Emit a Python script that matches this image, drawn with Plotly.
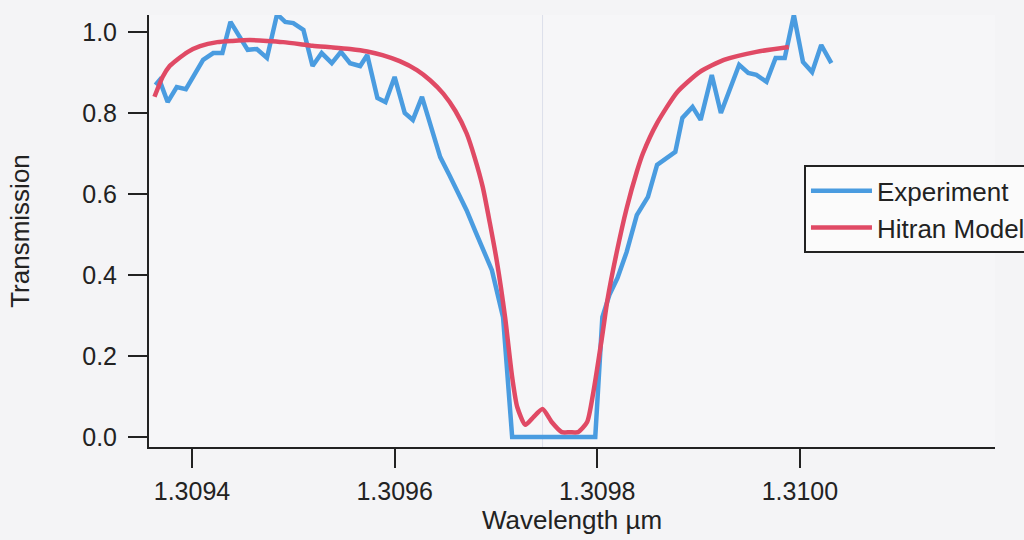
import plotly.graph_objects as go

# Experiment data (wavelength in um, transmission)
exp_wl = [1.309364, 1.309368, 1.309376, 1.309385, 1.309394, 1.309403, 1.309411, 1.309421,
          1.309430, 1.309438, 1.309447, 1.309455, 1.309464, 1.309474, 1.309484, 1.309492,
          1.309500, 1.309510, 1.309519, 1.309528, 1.309538, 1.309547, 1.309556, 1.309566,
          1.309573, 1.309583, 1.309591, 1.309600, 1.309610, 1.309618, 1.309627, 1.309636,
          1.309645, 1.309654, 1.309662, 1.309671, 1.309680, 1.309688, 1.309696, 1.309707,
          1.309716, 1.309725, 1.309734, 1.309742, 1.309751, 1.309760, 1.309769, 1.309778,
          1.309788, 1.309798, 1.309805, 1.309812, 1.309820, 1.309829, 1.309839, 1.309850,
          1.309859, 1.309868, 1.309877, 1.309884, 1.309894, 1.309902, 1.309913, 1.309922,
          1.309931, 1.309940, 1.309949, 1.309957, 1.309967, 1.309976, 1.309985, 1.309994,
          1.310003, 1.310012, 1.310021, 1.310031]
exp_tr = [0.869, 0.881, 0.827, 0.864, 0.859, 0.896, 0.931, 0.948,
          0.948, 1.025, 0.988, 0.956, 0.958, 0.936, 1.044, 1.025,
          1.022, 1.005, 0.916, 0.948, 0.923, 0.951, 0.923, 0.916,
          0.943, 0.837, 0.827, 0.889, 0.800, 0.783, 0.840, 0.770,
          0.691, 0.647, 0.605, 0.560, 0.506, 0.462, 0.412, 0.296,
          0.0, 0.0, 0.0, 0.0, 0.0, 0.0, 0.0, 0.0,
          0.0, 0.0, 0.296, 0.351, 0.393, 0.457, 0.548, 0.593,
          0.672, 0.689, 0.704, 0.788, 0.815, 0.783, 0.894, 0.800,
          0.857, 0.919, 0.899, 0.894, 0.877, 0.936, 0.936, 1.042,
          0.926, 0.901, 0.968, 0.923]

# Hitran model
mod_wl = [1.309363, 1.309371, 1.309378, 1.309385, 1.309396, 1.309408, 1.309425, 1.309440,
          1.309457, 1.309474, 1.309490, 1.309507, 1.309519, 1.309539, 1.309556, 1.309573,
          1.309588, 1.309605, 1.309622, 1.309635, 1.309648, 1.309660, 1.309671, 1.309679,
          1.309687, 1.309694, 1.309701, 1.309709, 1.309716, 1.309721, 1.309729, 1.309737,
          1.309746, 1.309755, 1.309765, 1.309773, 1.309781, 1.309790, 1.309796, 1.309805,
          1.309810, 1.309819, 1.309829, 1.309839, 1.309845, 1.309859, 1.309879, 1.309901,
          1.309925, 1.309957, 1.309989]
mod_tr = [0.840, 0.889, 0.916, 0.931, 0.951, 0.965, 0.975, 0.978,
          0.980, 0.978, 0.975, 0.970, 0.966, 0.962, 0.958, 0.952,
          0.943, 0.928, 0.906, 0.881, 0.848, 0.805, 0.750, 0.690,
          0.617, 0.528, 0.432, 0.296, 0.148, 0.074, 0.030, 0.049,
          0.069, 0.037, 0.012, 0.012, 0.012, 0.037, 0.109, 0.252,
          0.338, 0.454, 0.565, 0.655, 0.700, 0.775, 0.852, 0.901,
          0.931, 0.951, 0.963]

x_ticks = [1.3094, 1.3096, 1.3098, 1.3100]
x_tick_labels = ["1.3094", "1.3096", "1.3098", "1.3100"]
y_ticks = [0.0, 0.2, 0.4, 0.6, 0.8, 1.0]
y_tick_labels = ["0.0", "0.2", "0.4", "0.6", "0.8", "1.0"]

FONT = "Liberation Sans, Arial, sans-serif"
INK = "#222222"

fig = go.Figure()
fig.add_trace(go.Scatter(x=exp_wl, y=exp_tr, mode="lines", name="Experiment",
                         line=dict(color="#4a9ce0", width=4.5)))
fig.add_trace(go.Scatter(x=mod_wl, y=mod_tr, mode="lines", name="Hitran Model",
                         line=dict(color="#e04a65", width=4.5, shape="spline", smoothing=0.6)))

# faint fold line in the scanned page
fig.add_shape(type="line", xref="x", yref="paper", x0=1.309746, x1=1.309746, y0=0, y1=1,
              line=dict(color="#dcdfea", width=1), layer="below")

fig.update_layout(
    width=1024, height=540,
    margin=dict(l=149, r=29, t=15, b=93, autoexpand=False),
    paper_bgcolor="#f4f4f6", plot_bgcolor="#f6f6f8",
    font=dict(family=FONT, size=24, color=INK),
    showlegend=True,
    legend=dict(x=0.7742, y=0.652, xanchor="left", yanchor="top",
                bgcolor="#fbfbfb", bordercolor=INK, borderwidth=2,
                itemwidth=61,
                font=dict(family=FONT, size=26, color=INK), tracegroupgap=0),
    xaxis=dict(range=[1.3093576, 1.3101925], tickvals=x_ticks, ticktext=x_tick_labels,
               showgrid=False, zeroline=False, showline=True, linewidth=2, linecolor=INK,
               ticks="outside", ticklen=19, tickwidth=2, tickcolor=INK,
               tickfont=dict(size=25), ticklabelstandoff=2,
               title=dict(text="Wavelength µm", font=dict(size=26), standoff=5)),
    yaxis=dict(range=[-0.0247, 1.042], tickvals=y_ticks, ticktext=y_tick_labels,
               showgrid=False, zeroline=False, showline=True, linewidth=2, linecolor=INK,
               ticks="outside", ticklen=19, tickwidth=2, tickcolor=INK,
               tickfont=dict(size=25), ticklabelstandoff=6,
               title=dict(text="Transmission", font=dict(size=26), standoff=45)),
)

fig.write_html("out.html")
